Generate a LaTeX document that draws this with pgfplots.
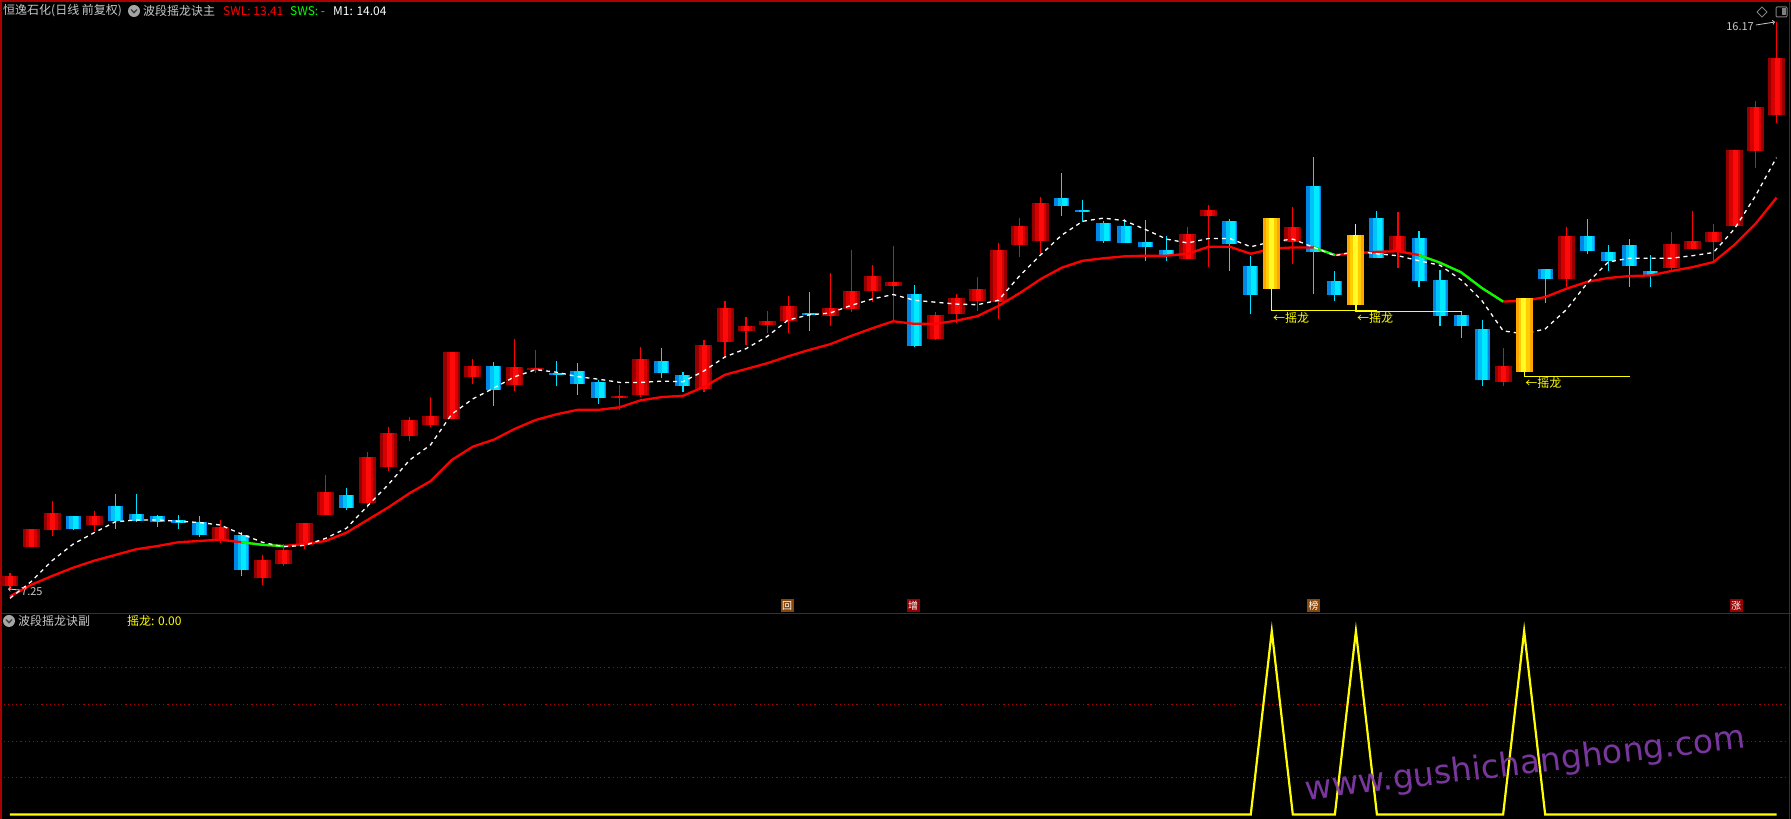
\documentclass[border=0pt]{standalone}
\usepackage{fontspec}
\setmainfont{Noto Sans CJK SC}
\newfontfamily\wmfont{DejaVu Sans}
\usepackage{pgfplots}
\pgfplotsset{compat=1.18}
\usepackage{pgfplotstable}

\definecolor{bord}{RGB}{170,0,0}
\definecolor{upA}{RGB}{150,0,0}
\definecolor{upB}{RGB}{215,0,0}
\definecolor{upC}{RGB}{255,10,10}
\definecolor{dnA}{RGB}{0,135,230}
\definecolor{dnB}{RGB}{0,195,250}
\definecolor{dnC}{RGB}{0,235,255}
\definecolor{ylA}{RGB}{255,165,0}
\definecolor{ylB}{RGB}{255,205,0}
\definecolor{ylC}{RGB}{255,250,40}
\definecolor{wickup}{RGB}{255,0,0}
\definecolor{wickdn}{RGB}{0,225,255}
\definecolor{txtgray}{RGB}{200,200,200}
\definecolor{gridred}{RGB}{175,0,0}
\definecolor{tagbrown}{RGB}{135,70,10}
\definecolor{tagred}{RGB}{150,0,0}
\definecolor{wm}{RGB}{135,60,175}
\definecolor{sigyellow}{RGB}{255,255,0}
\definecolor{swlgreen}{RGB}{0,255,0}

% up (red) candles: index open high low close
\pgfplotstableread{
i O H L C
0 7.31 7.52 7.25 7.47
1 7.93 8.21 7.92 8.21
2 8.19 8.65 8.10 8.46
4 8.27 8.49 8.17 8.41
10 8.04 8.35 7.99 8.24
12 7.44 7.80 7.33 7.72
13 7.66 7.97 7.63 7.88
14 7.95 8.30 7.89 8.30
15 8.43 9.06 8.43 8.79
17 8.61 9.42 8.53 9.34
18 9.18 9.81 9.12 9.72
19 9.67 9.97 9.59 9.92
20 9.84 10.28 9.81 9.98
21 9.94 10.99 9.94 10.99
22 10.60 10.88 10.49 10.77
24 10.47 11.19 10.38 10.75
25 10.71 11.02 10.66 10.74
29 10.27 10.47 10.08 10.30
30 10.31 11.07 10.28 10.88
33 10.40 11.18 10.36 11.10
34 11.15 11.79 10.90 11.68
35 11.32 11.54 11.09 11.40
36 11.41 11.63 11.29 11.47
37 11.47 11.87 11.28 11.71
39 11.56 12.23 11.40 11.68
40 11.66 12.59 11.62 11.95
41 11.95 12.35 11.78 12.18
42 12.03 12.65 11.48 12.09
44 11.19 11.62 11.18 11.57
45 11.59 11.90 11.45 11.84
46 11.79 12.17 11.63 11.98
47 11.78 12.70 11.51 12.59
48 12.67 13.09 12.48 12.97
49 12.73 13.42 12.53 13.33
56 12.45 12.95 12.45 12.84
57 13.13 13.30 12.32 13.22
61 12.72 13.26 12.37 12.95
66 12.56 13.19 12.30 12.81
71 10.52 11.05 10.46 10.77
74 12.14 12.95 12.01 12.81
79 12.30 12.87 12.26 12.68
80 12.61 13.20 12.61 12.73
81 12.72 13.00 12.41 12.87
82 12.96 14.16 12.96 14.16
83 14.15 14.93 13.87 14.84
84 14.71 16.17 14.59 15.60
}\up

% down (cyan) candles
\pgfplotstableread{
i O H L C
3 8.41 8.41 8.19 8.21
5 8.57 8.76 8.21 8.33
6 8.44 8.76 8.32 8.33
7 8.41 8.43 8.24 8.32
8 8.35 8.43 8.21 8.31
9 8.32 8.41 8.09 8.11
11 8.11 8.16 7.47 7.56
16 8.74 8.85 8.51 8.54
23 10.77 10.83 10.14 10.39
26 10.66 10.85 10.45 10.63
27 10.69 10.81 10.31 10.49
28 10.52 10.55 10.17 10.27
31 10.85 11.05 10.58 10.66
32 10.63 10.67 10.36 10.46
38 11.60 11.93 11.31 11.57
43 11.90 12.04 11.06 11.08
50 13.41 13.80 13.13 13.28
51 13.22 13.37 13.03 13.19
52 13.01 13.04 12.70 12.73
53 12.97 13.08 12.70 12.70
54 12.72 13.06 12.41 12.63
55 12.59 12.81 12.42 12.51
58 13.04 13.08 12.26 12.69
59 12.34 12.50 11.59 11.88
62 13.59 14.05 11.90 12.56
63 12.10 12.26 11.79 11.88
65 13.09 13.20 12.47 12.47
67 12.78 12.89 12.01 12.11
68 12.12 12.28 11.39 11.56
69 11.57 11.62 11.21 11.39
70 11.35 11.49 10.46 10.54
73 12.29 12.29 11.75 12.14
75 12.81 13.08 12.53 12.58
76 12.56 12.67 12.26 12.42
77 12.67 12.76 12.01 12.34
78 12.26 12.51 12.01 12.19
}\dn

% signal (yellow) candles
\pgfplotstableread{
i O H L C
60 11.98 13.09 11.98 13.09
64 11.73 13.00 11.73 12.83
72 10.68 11.84 10.68 11.84
}\yl

% SWL (S) and M1 (M)
\pgfplotstableread{
i S M
0 7.15 7.12
1 7.33 7.38
2 7.47 7.71
3 7.60 7.97
4 7.71 8.15
5 7.80 8.32
6 7.89 8.35
7 7.94 8.35
8 8.00 8.33
9 8.02 8.31
10 8.04 8.27
11 8.00 8.13
12 7.96 8.00
13 7.94 7.93
14 7.97 7.95
15 8.02 8.06
16 8.15 8.22
17 8.35 8.57
18 8.55 8.91
19 8.77 9.29
20 8.96 9.53
21 9.29 10.01
22 9.50 10.25
23 9.61 10.42
24 9.78 10.60
25 9.92 10.71
26 10.01 10.67
27 10.08 10.60
28 10.08 10.56
29 10.12 10.51
30 10.23 10.51
31 10.28 10.53
32 10.30 10.52
33 10.44 10.69
34 10.63 10.91
35 10.72 11.04
36 10.81 11.23
37 10.92 11.49
38 11.02 11.57
39 11.11 11.60
40 11.24 11.72
41 11.36 11.82
42 11.47 11.89
43 11.43 11.80
44 11.43 11.77
45 11.48 11.74
46 11.55 11.73
47 11.71 11.80
48 11.91 12.18
49 12.13 12.51
50 12.31 12.82
51 12.42 13.04
52 12.46 13.09
53 12.49 13.05
54 12.50 12.91
55 12.50 12.76
56 12.53 12.70
57 12.64 12.77
58 12.64 12.77
59 12.53 12.64
60 12.61 12.72
61 12.63 12.76
62 12.63 12.63
63 12.51 12.50
64 12.54 12.57
65 12.56 12.53
66 12.57 12.50
67 12.51 12.42
68 12.39 12.35
69 12.24 12.12
70 11.99 11.79
71 11.78 11.32
72 11.79 11.27
73 11.85 11.35
74 11.98 11.65
75 12.09 12.07
76 12.15 12.40
77 12.18 12.46
78 12.19 12.46
79 12.26 12.46
80 12.32 12.50
81 12.40 12.55
82 12.67 12.92
83 13.00 13.44
84 13.41 14.04
}\lines

% wick: segment low -> high
\newcommand{\wickplot}[2]{\addplot[draw=#2, line width=1.1pt, quiver={u=0, v=\thisrow{H}-\thisrow{L}}] table[x=i, y=L] {#1};}
% body: segment min(O,C) -> max(O,C); args: table, colour, width, x shift
\newcommand{\bodyplot}[4]{\addplot[draw=#2, line width=#3, quiver={u=0, v={max(abs(\thisrow{C}-\thisrow{O}),0.03)}}] table[x expr={\thisrow{i}+#4}, y expr={min(\thisrow{O},\thisrow{C})}] {#1};}

\begin{document}
\begin{tikzpicture}[x=1pt,y=1pt]
\fill[black] (0,0) rectangle (1791,819);
\useasboundingbox (0,0) rectangle (1791,819);

% borders
\draw[bord, line width=1.6pt] (0,818) -- (1791,818);
\draw[bord, line width=1.6pt] (1,0) -- (1,819);
\draw[bord, line width=1.6pt] (1789.5,0) -- (1789.5,819);
\draw[bord, line width=1.4pt] (0,205.7) -- (1791,205.7);

% ---------- main panel ----------
\begin{axis}[at={(0pt,206pt)}, anchor=south west, scale only axis,
  width=1791pt, height=613pt,
  xmin=-0.4755, xmax=84.689, ymin=6.8889, ymax=16.5155,
  hide axis]
  % wicks
  \wickplot{\up}{wickup}
  \wickplot{\dn}{wickdn}
  % bodies
  \bodyplot{\up}{upA}{17pt}{0}
  \bodyplot{\up}{upB}{11pt}{0.02}
  \bodyplot{\up}{upC}{5pt}{0.04}
  \bodyplot{\dn}{dnA}{15pt}{0}
  \bodyplot{\dn}{dnB}{10pt}{0.06}
  \bodyplot{\dn}{dnC}{5pt}{0.12}
  % SWL line
  \addplot[draw=wickup, line width=2.3pt] table[x=i, y=S] {\lines};
  \addplot[draw=swlgreen, line width=2.3pt, restrict x to domain=11:13] table[x=i, y=S] {\lines};
  \addplot[draw=swlgreen, line width=2.3pt, restrict x to domain=62:63] table[x=i, y=S] {\lines};
  \addplot[draw=swlgreen, line width=2.3pt, restrict x to domain=67:71] table[x=i, y=S] {\lines};
  % M1 dashed
  \addplot[draw=white, line width=1.3pt, dash pattern=on 4pt off 4pt] table[x=i, y=M] {\lines};
  % signal candles
  \wickplot{\yl}{sigyellow}
  \bodyplot{\yl}{ylA}{17pt}{0}
  \bodyplot{\yl}{ylB}{11pt}{0}
  \bodyplot{\yl}{ylC}{5pt}{-0.03}
  % signal marker lines
  \addplot[draw=sigyellow, line width=1.3pt] coordinates {(60,11.98) (60,11.643) (65,11.643)};
  \addplot[draw=sigyellow, line width=1.3pt] coordinates {(64,11.73) (64,11.627) (69.04,11.627)};
  \addplot[draw=sigyellow, line width=1.3pt] coordinates {(72,10.68) (72,10.600) (77.03,10.600)};
  \node[anchor=west, inner sep=0pt, text=sigyellow, font=\fontsize{12}{12}\selectfont] at (axis cs:60.05,11.53) {←摇龙};
  \node[anchor=west, inner sep=0pt, text=sigyellow, font=\fontsize{12}{12}\selectfont] at (axis cs:64.05,11.53) {←摇龙};
  \node[anchor=west, inner sep=0pt, text=sigyellow, font=\fontsize{12}{12}\selectfont] at (axis cs:72.05,10.50) {←摇龙};
\end{axis}

% ---------- lower panel ----------
\begin{axis}[at={(0pt,0pt)}, anchor=south west, scale only axis,
  width=1791pt, height=206pt,
  xmin=-0.4755, xmax=84.689, ymin=-0.0241, ymax=1.0986,
  hide axis]
  \foreach \g in {0.2,0.4,0.6,0.8} {
    \edef\tmp{\noexpand\draw[gridred, line width=1pt, dash pattern=on 1.2pt off 3pt] (axis cs:-0.3,\g) -- (axis cs:84.55,\g);}
    \tmp
  }
  \addplot[draw=sigyellow, line width=2.2pt] coordinates {(0,0) (59,0) (60,1) (61,0) (63,0) (64,1) (65,0) (71,0) (72,1) (73,0) (84,0)};
\end{axis}

% ---------- header texts ----------
\node[anchor=west, inner sep=0pt, text=txtgray, font=\fontsize{12}{12}\selectfont] at (3,808) {恒逸石化(日线 前复权)};
\fill[gray!70] (134,808) circle (6);
\draw[black!75, line width=1.3pt] (131,809.5) -- (134,806.3) -- (137,809.5);
\node[anchor=west, inner sep=0pt, text=txtgray, font=\fontsize{12}{12}\selectfont] at (143,808) {波段摇龙诀主};
\node[anchor=west, inner sep=0pt, text=red, font=\fontsize{12}{12}\selectfont] at (223,808) {SWL: 13.41};
\node[anchor=west, inner sep=0pt, text=swlgreen, font=\fontsize{12}{12}\selectfont] at (290,808) {SWS: -};
\node[anchor=west, inner sep=0pt, text=white, font=\fontsize{12}{12}\selectfont] at (333,808) {M1: 14.04};

\fill[gray!70] (9,198) circle (6);
\draw[black!75, line width=1.3pt] (6,199.5) -- (9,196.3) -- (12,199.5);
\node[anchor=west, inner sep=0pt, text=txtgray, font=\fontsize{12}{12}\selectfont] at (18,198) {波段摇龙诀副};
\node[anchor=west, inner sep=0pt, text=sigyellow, font=\fontsize{12}{12}\selectfont] at (127,198) {摇龙: 0.00};

% price labels
\node[anchor=east, inner sep=0pt, text=txtgray, font=\fontsize{11}{11}\selectfont] at (1754,792) {16.17};
\draw[->, txtgray, line width=0.8pt] (1756,794) -- (1775,797);
\node[anchor=west, inner sep=0pt, text=txtgray, font=\fontsize{11}{11}\selectfont] at (21,227) {7.25};
\draw[->, txtgray, line width=0.8pt] (20,229) -- (8,230);

% top right icons
\draw[gray, line width=0.8pt] (1757,807) -- (1762,812) -- (1767,807) -- (1762,802) -- cycle;
\draw[gray, line width=1pt, rounded corners=1pt] (1776,802) rectangle (1787,812);
\fill[gray] (1782,803.5) rectangle (1785.5,810.5);

% tags
\node[fill=tagbrown, text=white, minimum size=13pt, inner sep=0pt, font=\fontsize{10}{10}\selectfont] at (787,213.5) {回};
\node[fill=tagred, text=white, minimum size=13pt, inner sep=0pt, font=\fontsize{10}{10}\selectfont] at (913,213.5) {增};
\node[fill=tagbrown, text=white, minimum size=13pt, inner sep=0pt, font=\fontsize{10}{10}\selectfont] at (1313.5,213.5) {榜};
\node[fill=tagred, text=white, minimum size=13pt, inner sep=0pt, font=\fontsize{10}{10}\selectfont] at (1736,213.5) {涨};

% watermark
\node[rotate=6.75, text=wm, opacity=0.9, inner sep=0pt, font=\wmfont\fontsize{33}{33}\selectfont] at (1525,54) {www.gushichanghong.com};
\end{tikzpicture}
\end{document}
